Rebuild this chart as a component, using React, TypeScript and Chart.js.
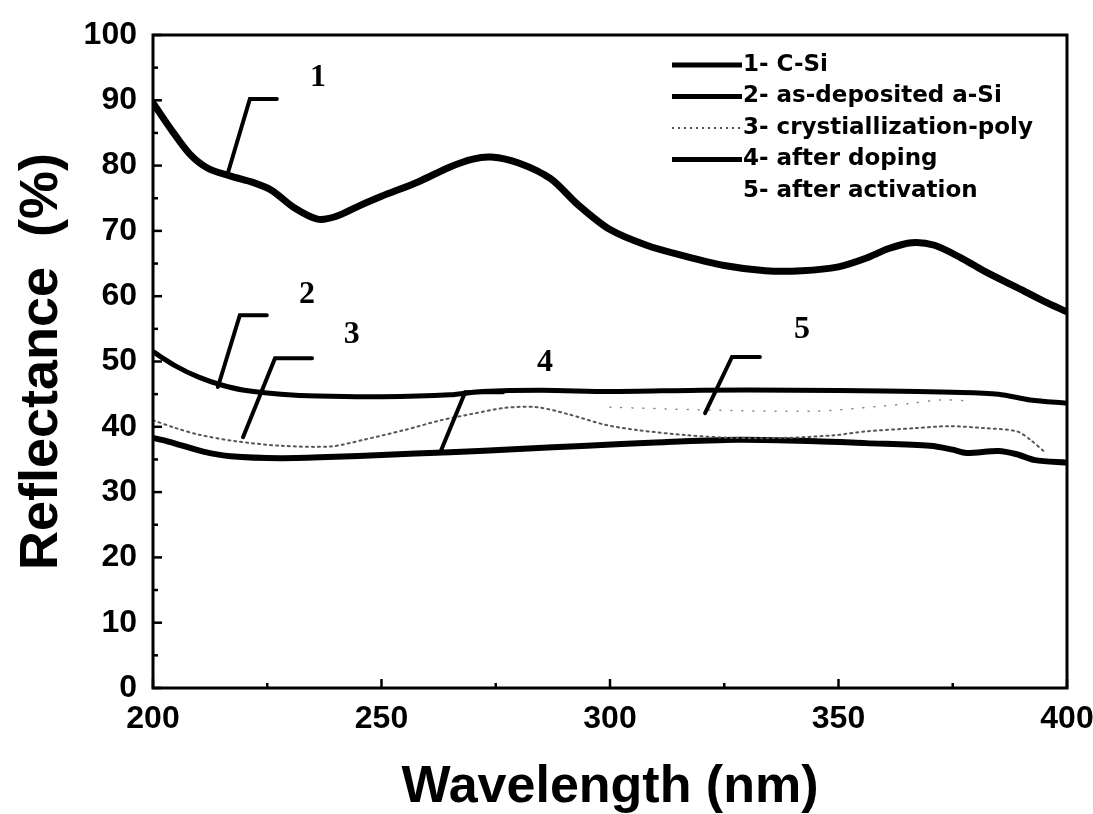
import React, { useEffect, useRef } from "react";
import { Chart, registerables } from "chart.js";

Chart.register(...registerables);

// ---- data (wavelength nm, reflectance %) ----
const wl1 = [200, 204, 208, 212, 217, 222, 226, 231, 236, 240, 245, 250, 258, 265, 270, 274, 280, 287, 293, 300, 308, 316, 325, 334, 342, 350, 356, 361, 366, 371, 377, 382, 390, 395, 400];
const r1 = [89.6, 85.5, 81.8, 79.6, 78.4, 77.4, 76.2, 73.5, 71.8, 72.2, 73.8, 75.3, 77.5, 79.8, 81.0, 81.3, 80.4, 78.0, 74.0, 70.2, 67.8, 66.2, 64.7, 63.9, 63.9, 64.5, 65.8, 67.3, 68.2, 67.8, 65.8, 63.8, 61.0, 59.2, 57.6];

const wl2 = [200, 205, 210, 215, 220, 228, 236, 250, 265, 272, 285, 300, 320, 340, 360, 375, 385, 392, 400];
const r2 = [51.5, 49.3, 47.6, 46.4, 45.6, 45.0, 44.7, 44.6, 44.9, 45.4, 45.6, 45.4, 45.6, 45.6, 45.5, 45.3, 45.0, 44.1, 43.6];

const wl3 = [200, 205, 210, 218, 228, 239, 246, 255, 263, 270, 277, 284, 291, 299, 306, 317, 327, 338, 349, 356, 367, 374, 382, 389, 392, 395];
const r3 = [41.0, 39.8, 38.8, 37.8, 37.1, 37.0, 38.0, 39.5, 41.0, 42.0, 42.9, 43.0, 41.9, 40.3, 39.5, 38.7, 38.3, 38.3, 38.7, 39.3, 39.8, 40.1, 39.8, 39.3, 38.0, 36.2];

const wl4 = [200, 203, 206, 211, 217, 228, 240, 250, 265, 280, 295, 310, 328, 345, 356, 370, 375, 378, 385, 389, 393, 400];
const r4 = [38.3, 37.8, 37.2, 36.2, 35.5, 35.2, 35.4, 35.7, 36.1, 36.6, 37.1, 37.6, 38.0, 37.8, 37.5, 37.1, 36.5, 36.0, 36.3, 35.8, 34.9, 34.5];

const wl5 = [300, 320, 345, 360, 366, 372, 378];
const r5 = [43.0, 42.6, 42.4, 43.2, 43.6, 44.1, 44.0];

const seriesNames = ["1- C-Si", "2- as-deposited a-Si", "3- crystiallization-poly", "4- after doping", "5- after activation"];

const xTicks = [200, 250, 300, 350, 400];
const yTicks = [0, 10, 20, 30, 40, 50, 60, 70, 80, 90, 100];

// curve labels with leader lines (data coordinates)
const curveLabels = ["1", "2", "3", "4", "5"];
const curveLabelX = [236.1, 233.7, 243.5, 285.8, 342.0];
const curveLabelY = [93.4, 60.2, 54.1, 49.8, 54.8];
const leaderX = [
  [227.1, 221.2, 216.4],
  [224.9, 219.0, 214.2],
  [234.8, 226.7, 219.7],
  [276.6, 268.3, 262.8],
  [332.8, 326.7, 320.8],
];
const leaderY = [
  [90.2, 90.2, 78.9],
  [57.1, 57.1, 46.1],
  [50.5, 50.5, 38.4],
  [45.3, 45.3, 36.0],
  [50.7, 50.7, 42.1],
];

const pts = (xs: number[], ys: number[]) => xs.map((x, i) => ({ x, y: ys[i] }));

const SANS = "'Liberation Sans', Arial, Helvetica, sans-serif";
const WIDE = "'DejaVu Sans', 'Liberation Sans', Arial, sans-serif";
const SERIF = "'Liberation Serif', 'Times New Roman', serif";

const styles = [
  { color: "#000", width: 7, dash: [] as number[] },
  { color: "#000", width: 5, dash: [] as number[] },
  { color: "#555", width: 2, dash: [2, 4] },
  { color: "#000", width: 6, dash: [] as number[] },
  { color: "#888", width: 1.5, dash: [1, 10] },
];

const decorPlugin = {
  id: "decor",
  afterDatasetsDraw(chart: any) {
    const { ctx, chartArea, scales } = chart;
    const xs = scales.x;
    const ys = scales.y;
    ctx.save();
    // frame
    ctx.strokeStyle = "#000";
    ctx.lineWidth = 3;
    ctx.setLineDash([]);
    ctx.strokeRect(chartArea.left, chartArea.top, chartArea.right - chartArea.left, chartArea.bottom - chartArea.top);
    // inward ticks
    ctx.lineWidth = 2.5;
    for (let v = 0; v <= 100; v += 5) {
      const y = ys.getPixelForValue(v);
      const len = v % 10 === 0 ? 9 : 5;
      ctx.beginPath();
      ctx.moveTo(chartArea.left, y);
      ctx.lineTo(chartArea.left + len, y);
      ctx.stroke();
    }
    for (let v = 200; v <= 400; v += 25) {
      const x = xs.getPixelForValue(v);
      const len = v % 50 === 0 ? 9 : 5;
      ctx.beginPath();
      ctx.moveTo(x, chartArea.bottom);
      ctx.lineTo(x, chartArea.bottom - len);
      ctx.stroke();
    }
    // leader lines + labels
    ctx.lineWidth = 4;
    ctx.lineCap = "round";
    ctx.lineJoin = "miter";
    for (let i = 0; i < curveLabels.length; i++) {
      ctx.beginPath();
      for (let j = 0; j < leaderX[i].length; j++) {
        const px = xs.getPixelForValue(leaderX[i][j]);
        const py = ys.getPixelForValue(leaderY[i][j]);
        if (j === 0) ctx.moveTo(px, py);
        else ctx.lineTo(px, py);
      }
      ctx.stroke();
      ctx.fillStyle = "#000";
      ctx.font = `bold 32px ${SERIF}`;
      ctx.textAlign = "center";
      ctx.textBaseline = "middle";
      ctx.fillText(curveLabels[i], xs.getPixelForValue(curveLabelX[i]), ys.getPixelForValue(curveLabelY[i]));
    }
    // legend
    const lx0 = chartArea.left + 519;
    const lx1 = chartArea.left + 589;
    const tx = chartArea.left + 590;
    const rowTop = chartArea.top + 30;
    const rowGap = 31.5;
    ctx.font = `bold 23px ${WIDE}`;
    ctx.textAlign = "left";
    ctx.textBaseline = "middle";
    ctx.lineCap = "butt";
    for (let i = 0; i < seriesNames.length; i++) {
      const y = rowTop + i * rowGap;
      if (i < 4) {
        const s = styles[i];
        ctx.strokeStyle = s.color;
        ctx.lineWidth = Math.min(s.width, 5);
        ctx.setLineDash(s.dash);
        ctx.beginPath();
        ctx.moveTo(lx0, y);
        ctx.lineTo(lx1, y);
        ctx.stroke();
        ctx.setLineDash([]);
      }
      ctx.fillStyle = "#000";
      ctx.fillText(seriesNames[i], tx, y);
    }
    ctx.restore();
  },
};

export default function App() {
  const canvasRef = useRef<HTMLCanvasElement | null>(null);

  useEffect(() => {
    document.body.style.margin = "0";
    const canvas = canvasRef.current;
    if (!canvas) return;
    const all = [pts(wl1, r1), pts(wl2, r2), pts(wl3, r3), pts(wl4, r4), pts(wl5, r5)];
    const chart = new Chart(canvas, {
      type: "line",
      data: {
        datasets: all.map((d, i) => ({
          label: seriesNames[i],
          data: d,
          borderColor: styles[i].color,
          borderWidth: styles[i].width,
          borderDash: styles[i].dash,
          borderCapStyle: "round" as const,
          borderJoinStyle: "round" as const,
          pointRadius: 0,
          fill: false,
          tension: 0.3,
        })),
      },
      options: {
        responsive: false,
        animation: false,
        devicePixelRatio: 1,
        layout: { padding: { left: 0, top: 35, right: 26, bottom: 0 } },
        plugins: {
          legend: { display: false },
          tooltip: { enabled: false },
        },
        scales: {
          x: {
            type: "linear",
            min: 200,
            max: 400,
            afterBuildTicks: (s: any) => {
              s.ticks = xTicks.map((v) => ({ value: v }));
            },
            afterFit: (s: any) => {
              s.height = 126;
              s.paddingRight = 0;
              s.paddingLeft = 0;
            },
            grid: { display: false, drawTicks: false },
            border: { display: false },
            ticks: {
              color: "#000",
              padding: 12,
              maxRotation: 0,
              font: { family: SANS, size: 32, weight: "bold" },
            },
            title: {
              display: true,
              text: "Wavelength (nm)",
              color: "#000",
              font: { family: SANS, size: 52, weight: "bold", lineHeight: 1.0 },
              padding: { top: 0, bottom: 0 },
            },
          },
          y: {
            type: "linear",
            min: 0,
            max: 100,
            afterBuildTicks: (s: any) => {
              s.ticks = yTicks.map((v) => ({ value: v }));
            },
            afterFit: (s: any) => {
              s.width = 153;
              s.paddingTop = 0;
              s.paddingBottom = 0;
            },
            grid: { display: false, drawTicks: false },
            border: { display: false },
            ticks: {
              color: "#000",
              padding: 16,
              font: { family: SANS, size: 32, weight: "bold" },
            },
            title: {
              display: true,
              text: "Reflectance  (%)",
              color: "#000",
              font: { family: SANS, size: 54, weight: "bold", lineHeight: 1.0 },
              padding: { top: 15, bottom: 0 },
            },
          },
        },
      },
      plugins: [decorPlugin],
    });
    return () => chart.destroy();
  }, []);

  return (
    <div style={{ position: "fixed", left: 0, top: 0, width: 1093, height: 814, background: "#fff", overflow: "hidden" }}>
      <canvas ref={canvasRef} width={1093} height={814} />
    </div>
  );
}
